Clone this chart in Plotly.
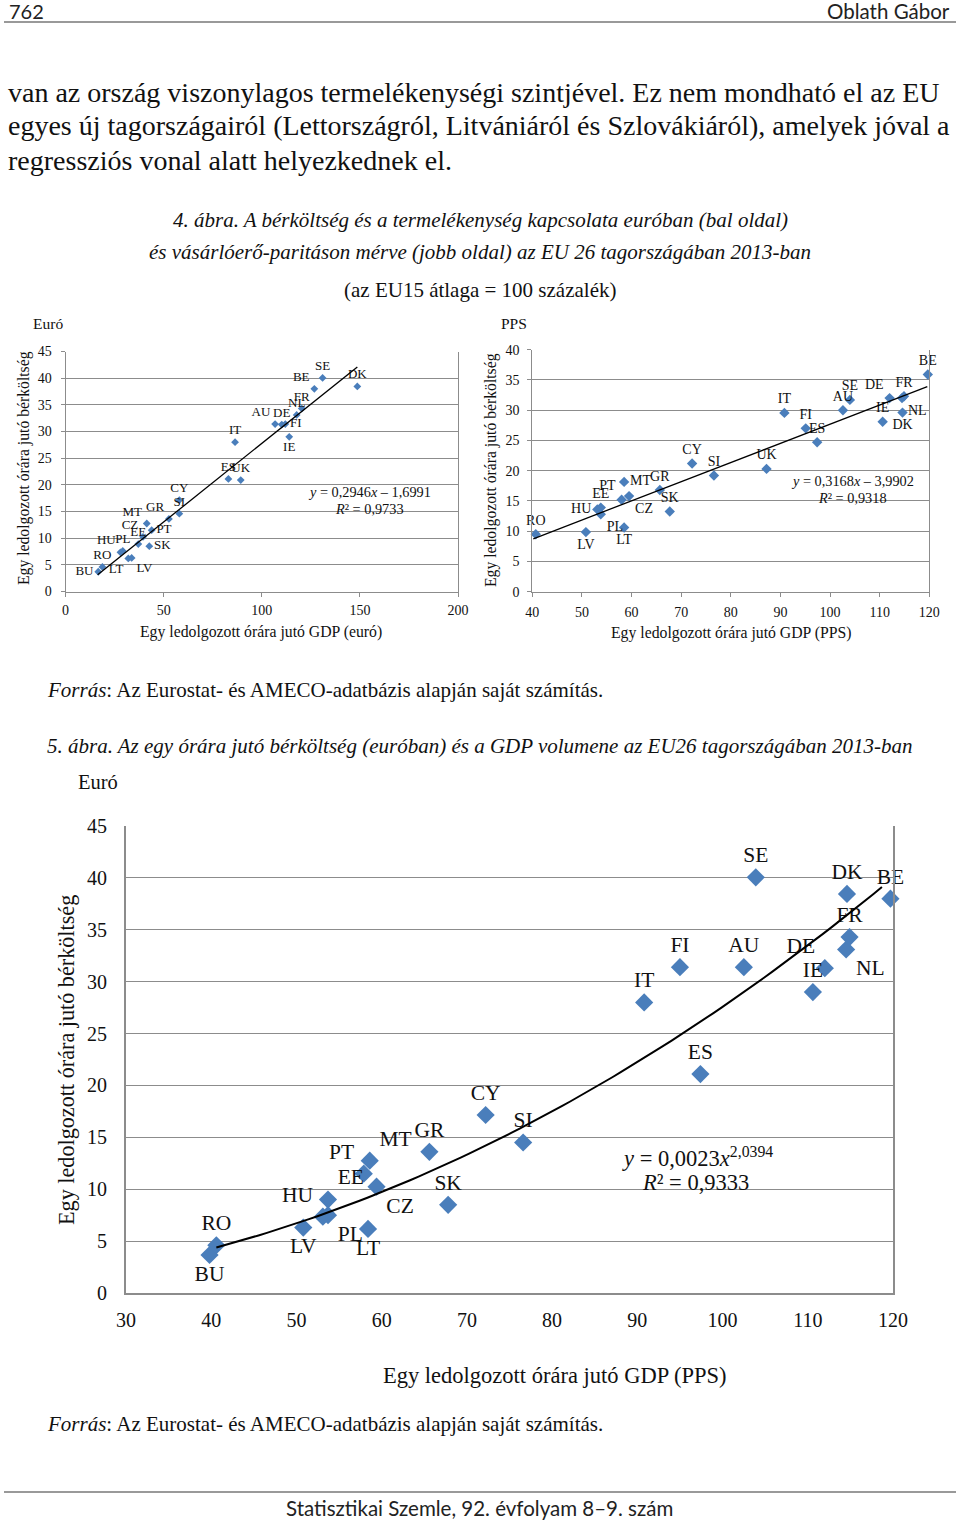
import numpy as np
import plotly.graph_objects as go

W, H = 960, 1521

# ---------------- DATA ----------------
# Figure 4, left: euro
codes_eur = ["BU", "RO", "HU", "PL", "LT", "LV", "EE", "CZ", "MT", "SK", "PT", "GR", "SI", "CY",
             "ES", "IT", "UK", "AU", "DE", "FI", "IE", "NL", "FR", "BE", "SE", "DK"]
gdp_eur = [16.7, 18.8, 28.0, 29.2, 32.0, 33.7, 37.1, 39.5, 41.4, 42.7, 43.9, 52.7, 58.0, 58.0,
           83.0, 86.4, 89.3, 106.8, 110.2, 112.0, 114.0, 117.8, 120.4, 126.8, 131.0, 148.7]
wage_eur = [3.7, 4.6, 7.35, 7.6, 6.2, 6.3, 8.9, 10.25, 12.75, 8.5, 11.5, 13.6, 14.6, 17.15,
            21.1, 28.0, 20.9, 31.4, 31.3, 31.4, 29.0, 33.1, 34.3, 38.0, 40.05, 38.45]

# Figure 4, right: PPS
codes_pps = ["RO", "LV", "HU", "EE", "PL", "PT", "MT", "LT", "CZ", "GR", "SK", "CY", "SI",
             "UK", "IT", "FI", "ES", "AU", "SE", "IE", "DE", "NL", "FR", "DK", "BE"]
gdp_pps = [40.7, 50.8, 53.1, 53.8, 53.8, 58.0, 58.5, 58.5, 59.5, 65.7, 67.7, 72.2, 76.6,
           87.2, 90.8, 95.1, 97.4, 102.6, 104.0, 110.6, 112.0, 114.5, 114.9, 114.6, 119.7]
wage_pps = [9.5, 9.85, 13.6, 13.9, 12.8, 15.2, 18.15, 10.6, 15.8, 16.8, 13.25, 21.2, 19.2,
            20.3, 29.55, 27.0, 24.7, 30.0, 31.7, 28.1, 32.0, 32.0, 32.3, 29.6, 35.9]

# Figure 5: wage (euro) vs GDP volume (PPS)
codes_vol = ["BU", "RO", "LV", "HU", "PL", "EE", "LT", "PT", "MT", "CZ", "GR", "SK", "CY", "SI",
             "IT", "FI", "ES", "AU", "SE", "IE", "DE", "NL", "FR", "DK", "BE"]
gdp_vol = [39.8, 40.6, 50.8, 53.1, 53.7, 53.7, 58.4, 57.9, 58.6, 59.4, 65.6, 67.8, 72.2, 76.6,
           90.8, 95.0, 97.4, 102.5, 103.9, 110.6, 112.0, 114.5, 114.9, 114.6, 119.7]
wage_vol = [3.66, 4.6, 6.3, 7.35, 7.5, 9.0, 6.17, 11.5, 12.75, 10.25, 13.6, 8.5, 17.15, 14.5,
            28.0, 31.4, 21.1, 31.4, 40.05, 29.0, 31.3, 33.1, 34.3, 38.45, 38.0]

# trend line coefficients shown on the charts
lin1 = (0.2946, -1.6991)
lin2 = (0.3168, -3.9902)
pow3 = (0.0023, 2.0394)

x_ticks1 = [0, 50, 100, 150, 200]
x_ticks2 = [40, 50, 60, 70, 80, 90, 100, 110, 120]
x_ticks3 = [30, 40, 50, 60, 70, 80, 90, 100, 110, 120]

# ---------------- STYLE ----------------
BLUE = "#4a7ebb"
GRID = "#8c8c8c"
SERIF = "Liberation Serif"
SANS = "Lato"

pos1 = {"BU": "middle left", "RO": "top center", "HU": "top left", "PL": "top center",
        "LT": "bottom left", "LV": "bottom right", "EE": "top center", "CZ": "top left",
        "MT": "top left", "SK": "middle right", "PT": "middle right", "GR": "top left",
        "SI": "top center", "CY": "top center", "ES": "top center", "IT": "top center",
        "UK": "top center", "AU": "top left", "DE": "top center", "FI": "middle right",
        "IE": "bottom center", "NL": "top center", "FR": "top center", "BE": "top left",
        "SE": "top center", "DK": "top center"}
pos2 = {"RO": "top center", "LV": "bottom center", "HU": "middle left", "EE": "top center",
        "PL": "bottom right", "PT": "top left", "MT": "middle right", "LT": "bottom center",
        "CZ": "bottom right", "GR": "top center", "SK": "top center", "CY": "top center",
        "SI": "top center", "UK": "top center", "IT": "top center", "FI": "top center",
        "ES": "top center", "AU": "top center", "SE": "top center", "IE": "top center",
        "DE": "top left", "NL": "bottom right", "FR": "top center", "DK": "bottom center",
        "BE": "top center"}
pos3 = {"BU": "bottom center", "RO": "top center", "LV": "bottom center", "HU": "top left",
        "PL": "bottom right", "EE": "top right", "LT": "bottom center", "PT": "top left",
        "MT": "top right", "CZ": "bottom right", "GR": "top center", "SK": "top center",
        "CY": "top center", "SI": "top center", "IT": "top center", "FI": "top center",
        "ES": "top center", "AU": "top center", "SE": "top center", "IE": "top center",
        "DE": "top left", "NL": "bottom right", "FR": "top center", "DK": "top center",
        "BE": "top center"}


def px(x):
    return x / W


def py(y):
    return 1 - y / H


fig = go.Figure()

# chart 1
fig.add_trace(go.Scatter(x=gdp_eur, y=wage_eur, mode="markers+text", text=codes_eur,
                         textposition=[pos1[c] for c in codes_eur],
                         textfont=dict(family=SERIF, size=13, color="#111"),
                         marker=dict(symbol="diamond", size=6, color=BLUE),
                         xaxis="x", yaxis="y", showlegend=False, cliponaxis=False))
t1 = np.linspace(16.4, 148.7, 2)
fig.add_trace(go.Scatter(x=t1, y=lin1[0] * t1 + lin1[1], mode="lines",
                         line=dict(color="black", width=1.3), xaxis="x", yaxis="y", showlegend=False))

# chart 2
fig.add_trace(go.Scatter(x=gdp_pps, y=wage_pps, mode="markers+text", text=codes_pps,
                         textposition=[pos2[c] for c in codes_pps],
                         textfont=dict(family=SERIF, size=14, color="#111"),
                         marker=dict(symbol="diamond", size=8, color=BLUE),
                         xaxis="x2", yaxis="y2", showlegend=False, cliponaxis=False))
t2 = np.linspace(40.2, 119.6, 2)
fig.add_trace(go.Scatter(x=t2, y=lin2[0] * t2 + lin2[1], mode="lines",
                         line=dict(color="black", width=1.3), xaxis="x2", yaxis="y2", showlegend=False))

# chart 3
fig.add_trace(go.Scatter(x=gdp_vol, y=wage_vol, mode="markers+text", text=codes_vol,
                         textposition=[pos3[c] for c in codes_vol],
                         textfont=dict(family=SERIF, size=21.5, color="#111"),
                         marker=dict(symbol="diamond", size=14, color=BLUE),
                         xaxis="x3", yaxis="y3", showlegend=False, cliponaxis=False))
t3 = np.linspace(40.6, 118.7, 80)
fig.add_trace(go.Scatter(x=t3, y=pow3[0] * t3 ** pow3[1], mode="lines",
                         line=dict(color="black", width=2), xaxis="x3", yaxis="y3", showlegend=False))


def xax(dom, rng, ticks, size, anchor, lw=1, ticks_on=True, standoff=0):
    return dict(domain=dom, range=rng, tickvals=ticks, showgrid=False, zeroline=False,
                showline=True, linecolor=GRID, linewidth=lw, ticks="outside" if ticks_on else "",
                ticklen=4, tickcolor=GRID, anchor=anchor, automargin=False,
                ticklabelstandoff=standoff,
                tickfont=dict(family=SERIF, size=size, color="#111"), fixedrange=True)


def yax(dom, rng, dtick, size, anchor, lw=1, ticks_on=True, standoff=0):
    return dict(domain=dom, range=rng, dtick=dtick, tick0=0, showgrid=True, gridcolor=GRID,
                gridwidth=1, zeroline=False, showline=True, mirror=True, linecolor=GRID,
                linewidth=lw, ticks="outside" if ticks_on else "", ticklen=4, tickcolor=GRID,
                anchor=anchor, automargin=False, ticklabelstandoff=standoff,
                tickfont=dict(family=SERIF, size=size, color="#111"), fixedrange=True)


fig.update_layout(
    width=W, height=H, margin=dict(l=0, r=0, t=0, b=0, pad=0, autoexpand=False),
    paper_bgcolor="white", plot_bgcolor="white",
    xaxis=xax([px(65.5), px(458)], [0, 200], x_ticks1, 14, "y", standoff=2),
    yaxis=yax([py(591.5), py(351.5)], [0, 45], 5, 14, "x", standoff=6),
    xaxis2=xax([px(532.3), px(929.3)], [40, 120], x_ticks2, 14, "y2", standoff=3),
    yaxis2=yax([py(591.7), py(349.7)], [0, 40], 5, 14, "x2", standoff=5),
    xaxis3=xax([px(126), px(893)], [30, 120], x_ticks3, 20, "y3", lw=2, ticks_on=False, standoff=8),
    yaxis3=yax([py(1293), py(826)], [0, 45], 5, 20, "x3", lw=2, ticks_on=False, standoff=13),
)

ann = []


def text(x, y, s, size, xanchor="center", family=SERIF, angle=0, color="#111"):
    ann.append(dict(x=px(x), y=py(y), xref="paper", yref="paper", text=s, showarrow=False,
                    xanchor=xanchor, yanchor="middle", textangle=angle,
                    font=dict(family=family, size=size, color=color)))


# header / footer
text(7, 10.5, "762", 20, "left", SANS, color="#222")
text(952, 10.5, "Oblath Gábor", 20.5, "right", SANS, color="#222")
text(479, 1508, "Statisztikai Szemle, 92. évfolyam 8–9. szám", 20.5, "center", SANS, color="#222")

# body text
text(6, 92, "van az ország viszonylagos termelékenységi szintjével. Ez nem mondható el az EU", 28.0, "left")
text(6, 126, "egyes új tagországairól (Lettországról, Litvániáról és Szlovákiáról), amelyek jóval a", 28.0, "left")
text(6, 160, "regressziós vonal alatt helyezkednek el.", 28.0, "left")

# figure 4 captions
text(480, 220, "<i>4. ábra. A bérköltség és a termelékenység kapcsolata euróban (bal oldal)</i>", 21)
text(480, 252, "<i>és vásárlóerő-paritáson mérve (jobb oldal) az EU 26 tagországában 2013-ban</i>", 21)
text(480, 290, "(az EU15 átlaga = 100 százalék)", 21)
text(31, 324, "Euró", 15.5, "left")
text(499, 324, "PPS", 15.5, "left")
text(24, 468, "Egy ledolgozott órára jutó bérköltség", 15.7, angle=-90)
text(491, 470, "Egy ledolgozott órára jutó bérköltség", 15.7, angle=-90)
text(261, 632, "Egy ledolgozott órára jutó GDP (euró)", 15.75)
text(731, 633, "Egy ledolgozott órára jutó GDP (PPS)", 15.75)
text(369, 492, "<i>y</i> = 0,2946<i>x</i> – 1,6991", 14.3)
text(369, 509, "<i>R</i>² = 0,9733", 14.3)
text(852, 481, "<i>y</i> = 0,3168<i>x</i> – 3,9902", 14.3)
text(852, 498, "<i>R</i>² = 0,9318", 14.3)
text(45, 690, "<i>Forrás</i>: Az Eurostat- és AMECO-adatbázis alapján saját számítás.", 21, "left")

# figure 5 captions
text(45, 746, "<i>5. ábra. Az egy órára jutó bérköltség (euróban) és a GDP volumene az EU26 tagországában 2013-ban</i>", 21, "left")
text(76, 782, "Euró", 20.5, "left")
text(66, 1060, "Egy ledolgozott órára jutó bérköltség", 22.2, angle=-90)
text(555, 1375, "Egy ledolgozott órára jutó GDP (PPS)", 22.5)
text(697, 1157, "<i>y</i> = 0,0023<i>x</i><sup>2,0394</sup>", 22.5)
text(695, 1182, "<i>R</i>² = 0,9333", 22.5)
text(45, 1424, "<i>Forrás</i>: Az Eurostat- és AMECO-adatbázis alapján saját számítás.", 21, "left")

fig.update_layout(annotations=ann)

shapes = [
    dict(type="line", xref="paper", yref="paper", x0=px(4), x1=px(956), y0=py(22), y1=py(22),
         line=dict(color="#777", width=1.5)),
    dict(type="line", xref="paper", yref="paper", x0=px(4), x1=px(956), y0=py(1492), y1=py(1492),
         line=dict(color="#777", width=1.5)),
]
fig.update_layout(shapes=shapes)

fig.write_html("out.html", config={"displayModeBar": False, "staticPlot": True},
               post_script="document.body.style.margin='0';document.body.style.padding='0';")
